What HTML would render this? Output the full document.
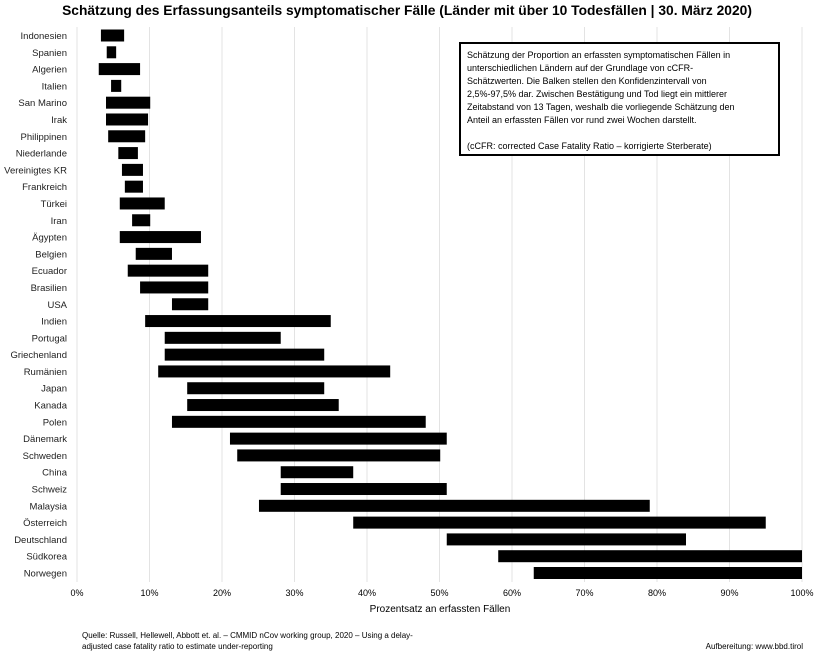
<!DOCTYPE html>
<html><head><meta charset="utf-8"><style>
body{margin:0;background:#fff;font-family:"Liberation Sans",sans-serif;}
svg text{font-family:"Liberation Sans",sans-serif;}
</style></head><body>
<svg id="chart" width="815" height="652" xmlns="http://www.w3.org/2000/svg">
<text x="407" y="15" text-anchor="middle" font-size="13.8" font-weight="bold">Schätzung des Erfassungsanteils symptomatischer Fälle (Länder mit über 10 Todesfällen | 30. März 2020)</text>
<g id="grid"></g>
<g id="bars"></g>
<g id="ylabels"></g>
<g id="xticks"></g>
<text x="440" y="612" text-anchor="middle" font-size="10">Prozentsatz an erfassten Fällen</text>
<g>
<rect x="460" y="43" width="319" height="112" fill="#fff" stroke="#000" stroke-width="2"/>
<text font-size="9" x="467">
<tspan x="467" y="58">Schätzung der Proportion an erfassten symptomatischen Fällen in</tspan>
<tspan x="467" y="71">unterschiedlichen Ländern auf der Grundlage von cCFR-</tspan>
<tspan x="467" y="84">Schätzwerten. Die Balken stellen den Konfidenzintervall von</tspan>
<tspan x="467" y="97">2,5%-97,5% dar. Zwischen Bestätigung und Tod liegt ein mittlerer</tspan>
<tspan x="467" y="110">Zeitabstand von 13 Tagen, weshalb die vorliegende Schätzung den</tspan>
<tspan x="467" y="123">Anteil an erfassten Fällen vor rund zwei Wochen darstellt.</tspan>
<tspan x="467" y="149">(cCFR: corrected Case Fatality Ratio – korrigierte Sterberate)</tspan>
</text></g>
<text font-size="8"><tspan x="82" y="638">Quelle: Russell, Hellewell, Abbott et. al. – CMMID nCov working group, 2020 – Using a delay-</tspan><tspan x="82" y="649">adjusted case fatality ratio to estimate under-reporting</tspan></text>
<text font-size="8" x="803" y="649" text-anchor="end">Aufbereitung: www.bbd.tirol</text>
</svg>
<script>
const countries=["Indonesien","Spanien","Algerien","Italien","San Marino","Irak","Philippinen","Niederlande","Vereinigtes KR","Frankreich","Türkei","Iran","Ägypten","Belgien","Ecuador","Brasilien","USA","Indien","Portugal","Griechenland","Rumänien","Japan","Kanada","Polen","Dänemark","Schweden","China","Schweiz","Malaysia","Österreich","Deutschland","Südkorea","Norwegen"];
const lower=[3.3,4.1,3.0,4.7,4.0,4.0,4.3,5.7,6.2,6.6,5.9,7.6,5.9,8.1,7.0,8.7,13.1,9.4,12.1,12.1,11.2,15.2,15.2,13.1,21.1,22.1,28.1,28.1,25.1,38.1,51.0,58.1,63.0];
const upper=[6.5,5.4,8.7,6.1,10.1,9.8,9.4,8.4,9.1,9.1,12.1,10.1,17.1,13.1,18.1,18.1,18.1,35.0,28.1,34.1,43.2,34.1,36.1,48.1,51.0,50.1,38.1,51.0,79.0,95.0,84.0,100,100];
const ticks=[0,10,20,30,40,50,60,70,80,90,100];
const NS="http://www.w3.org/2000/svg";
const x=v=>77+v*7.25;
const y=i=>35.5+i*(537.5/(countries.length-1));
function mk(t,a,p){const e=document.createElementNS(NS,t);for(const k in a)e.setAttribute(k,a[k]);document.getElementById(p).appendChild(e);return e;}
ticks.forEach(t=>{
const g=mk("line",{x1:x(t),x2:x(t),y1:27,y2:582,stroke:"#e3e3e3","stroke-width":1},"grid");


const l=mk("text",{x:x(t),y:596,"text-anchor":"middle","font-size":9},"xticks");
l.textContent=t+"%";


});
countries.forEach((c,i)=>{
const r=mk("rect",{x:x(lower[i]),y:y(i)-6,width:x(upper[i])-x(lower[i]),height:12,fill:"#000"},"bars");


const t=mk("text",{x:67,y:y(i)+3.5,"text-anchor":"end","font-size":9.5,fill:"#222"},"ylabels");
t.textContent=c;


});
</script>
</body></html>
